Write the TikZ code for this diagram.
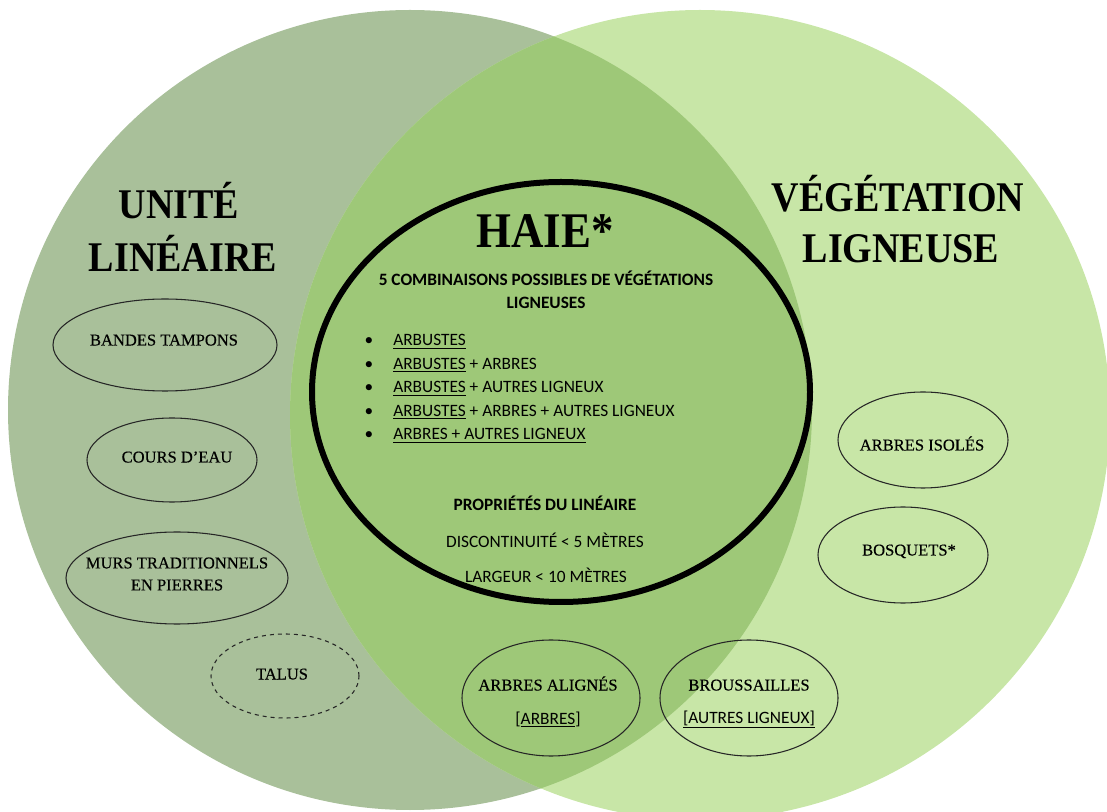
\documentclass[tikz,border=0pt]{standalone}
\usepackage{fontspec}
\setmainfont{Liberation Serif}
\newfontfamily\titlefont[FakeStretch=0.9]{Liberation Serif}
\newfontfamily\namefont[FakeBold=0.4]{Liberation Serif}
\newfontfamily\calfont{Carlito}
\usetikzlibrary{shapes.geometric}
\definecolor{lineaire}{RGB}{169,192,154}
\definecolor{ligneuse}{RGB}{200,230,167}
\definecolor{haie}{RGB}{158,200,120}
\tikzset{
  settitle/.style={font=\titlefont\bfseries\fontsize{31.7}{38}\selectfont, anchor=base, inner sep=0},
  blob/.style={ellipse, draw=black!85, line width=0.8pt, inner sep=0},
  setname/.style={font=\namefont\fontsize{12.4}{16.5}\selectfont, anchor=base, inner sep=0, align=center},
  sanstext/.style={font=\calfont\fontsize{13}{17.25}\selectfont, anchor=base, inner sep=0},
  sansbold/.style={font=\calfont\bfseries\fontsize{13}{17.25}\selectfont, anchor=base, inner sep=0},
}
\begin{document}
\begin{tikzpicture}[x=0.75pt,y=-0.75pt]
  \useasboundingbox (0,0) rectangle (1107,812);
  \clip (0,0) rectangle (1107,812);
  % the two large sets:
  \fill[lineaire] (410,410) ellipse [x radius=402, y radius=400];
  \fill[ligneuse] (700,415) ellipse [x radius=410, y radius=405];
  % overlap of the two sets:
  \begin{scope}
    \clip (410,410) ellipse [x radius=402, y radius=400];
    \fill[haie] (700,415) ellipse [x radius=410, y radius=405];
  \end{scope}
  % set titles:
  \node[settitle] (unite) at (179,219) {UNITÉ};
  \node[settitle] (lin) at (183,272) {LINÉAIRE};
  \node[settitle] (vege) at (898,212) {VÉGÉTATION};
  \node[settitle] (lign) at (901,263) {LIGNEUSE};
  % the hedge:
  \node[ellipse, draw, line width=4.5pt, minimum width=373.5pt, minimum height=315pt] (haie) at (561,392) {};
  \node[settitle, font=\titlefont\bfseries\fontsize{37.4}{40}\selectfont] (haietitle) at (545,248) {HAIE*};
  \node[sansbold] (comb1) at (546,285.5) {5 COMBINAISONS POSSIBLES DE VÉGÉTATIONS};
  \node[sansbold] (comb2) at (546,308.5) {LIGNEUSES};
  \foreach \entry [count=\i] in {{\underline{ARBUSTES}},
      {\underline{ARBUSTES} + ARBRES},
      {\underline{ARBUSTES} + AUTRES LIGNEUX},
      {\underline{ARBUSTES} + ARBRES + AUTRES LIGNEUX},
      {\underline{ARBRES + AUTRES LIGNEUX}}} {
    \node[sanstext] (bul\i) at (369,322.5+23.5*\i) {\textbullet};
    \node[sanstext, anchor=base west] (entry\i) at (393,322.5+23.5*\i) {\entry};
  }
  \node[sansbold] (prop) at (545,510.5) {PROPRIÉTÉS DU LINÉAIRE};
  \node[sanstext] (disc) at (545,547.5) {DISCONTINUITÉ < 5 MÈTRES};
  \node[sanstext] (larg) at (546,582.5) {LARGEUR < 10 MÈTRES};
  % elements of the linear unit:
  \node[blob, minimum width=168pt, minimum height=69pt] (bandes) at (165,345) {};
  \node[setname] (bandestxt) at (164,345.5) {BANDES TAMPONS};
  \node[blob, minimum width=127.5pt, minimum height=63pt] (cours) at (172,460) {};
  \node[setname] (courstxt) at (177,462.5) {COURS D’EAU};
  \node[blob, minimum width=166.5pt, minimum height=69pt] (murs) at (177,578) {};
  \node[setname, anchor=center] (murstxt) at (177,574) {MURS TRADITIONNELS\\EN PIERRES};
  \node[blob, dashed, minimum width=111pt, minimum height=63pt] (talus) at (285,676) {};
  \node[setname] (talustxt) at (282,679.5) {TALUS};
  % elements of the woody vegetation:
  \node[blob, minimum width=127.5pt, minimum height=72pt] (isoles) at (923,440) {};
  \node[setname] (isolestxt) at (922,450.5) {ARBRES ISOLÉS};
  \node[blob, minimum width=127.5pt, minimum height=72pt] (bosquets) at (903,555) {};
  \node[setname] (bosquetstxt) at (909,555.5) {BOSQUETS*};
  \node[blob, minimum width=133.5pt, minimum height=87pt] (alignes) at (551,698) {};
  \node[setname] (alignestxt) at (548,690.5) {ARBRES ALIGNÉS};
  \node[sanstext] (alignessub) at (548,724.5) {[\underline{ARBRES}]};
  \node[blob, minimum width=133.5pt, minimum height=87pt] (brouss) at (749,698) {};
  \node[setname] (broussarbtxt) at (749,690.5) {BROUSSAILLES};
  \node[sanstext] (brousssub) at (749,723.5) {\underline{[AUTRES LIGNEUX]}};
\end{tikzpicture}
\end{document}
